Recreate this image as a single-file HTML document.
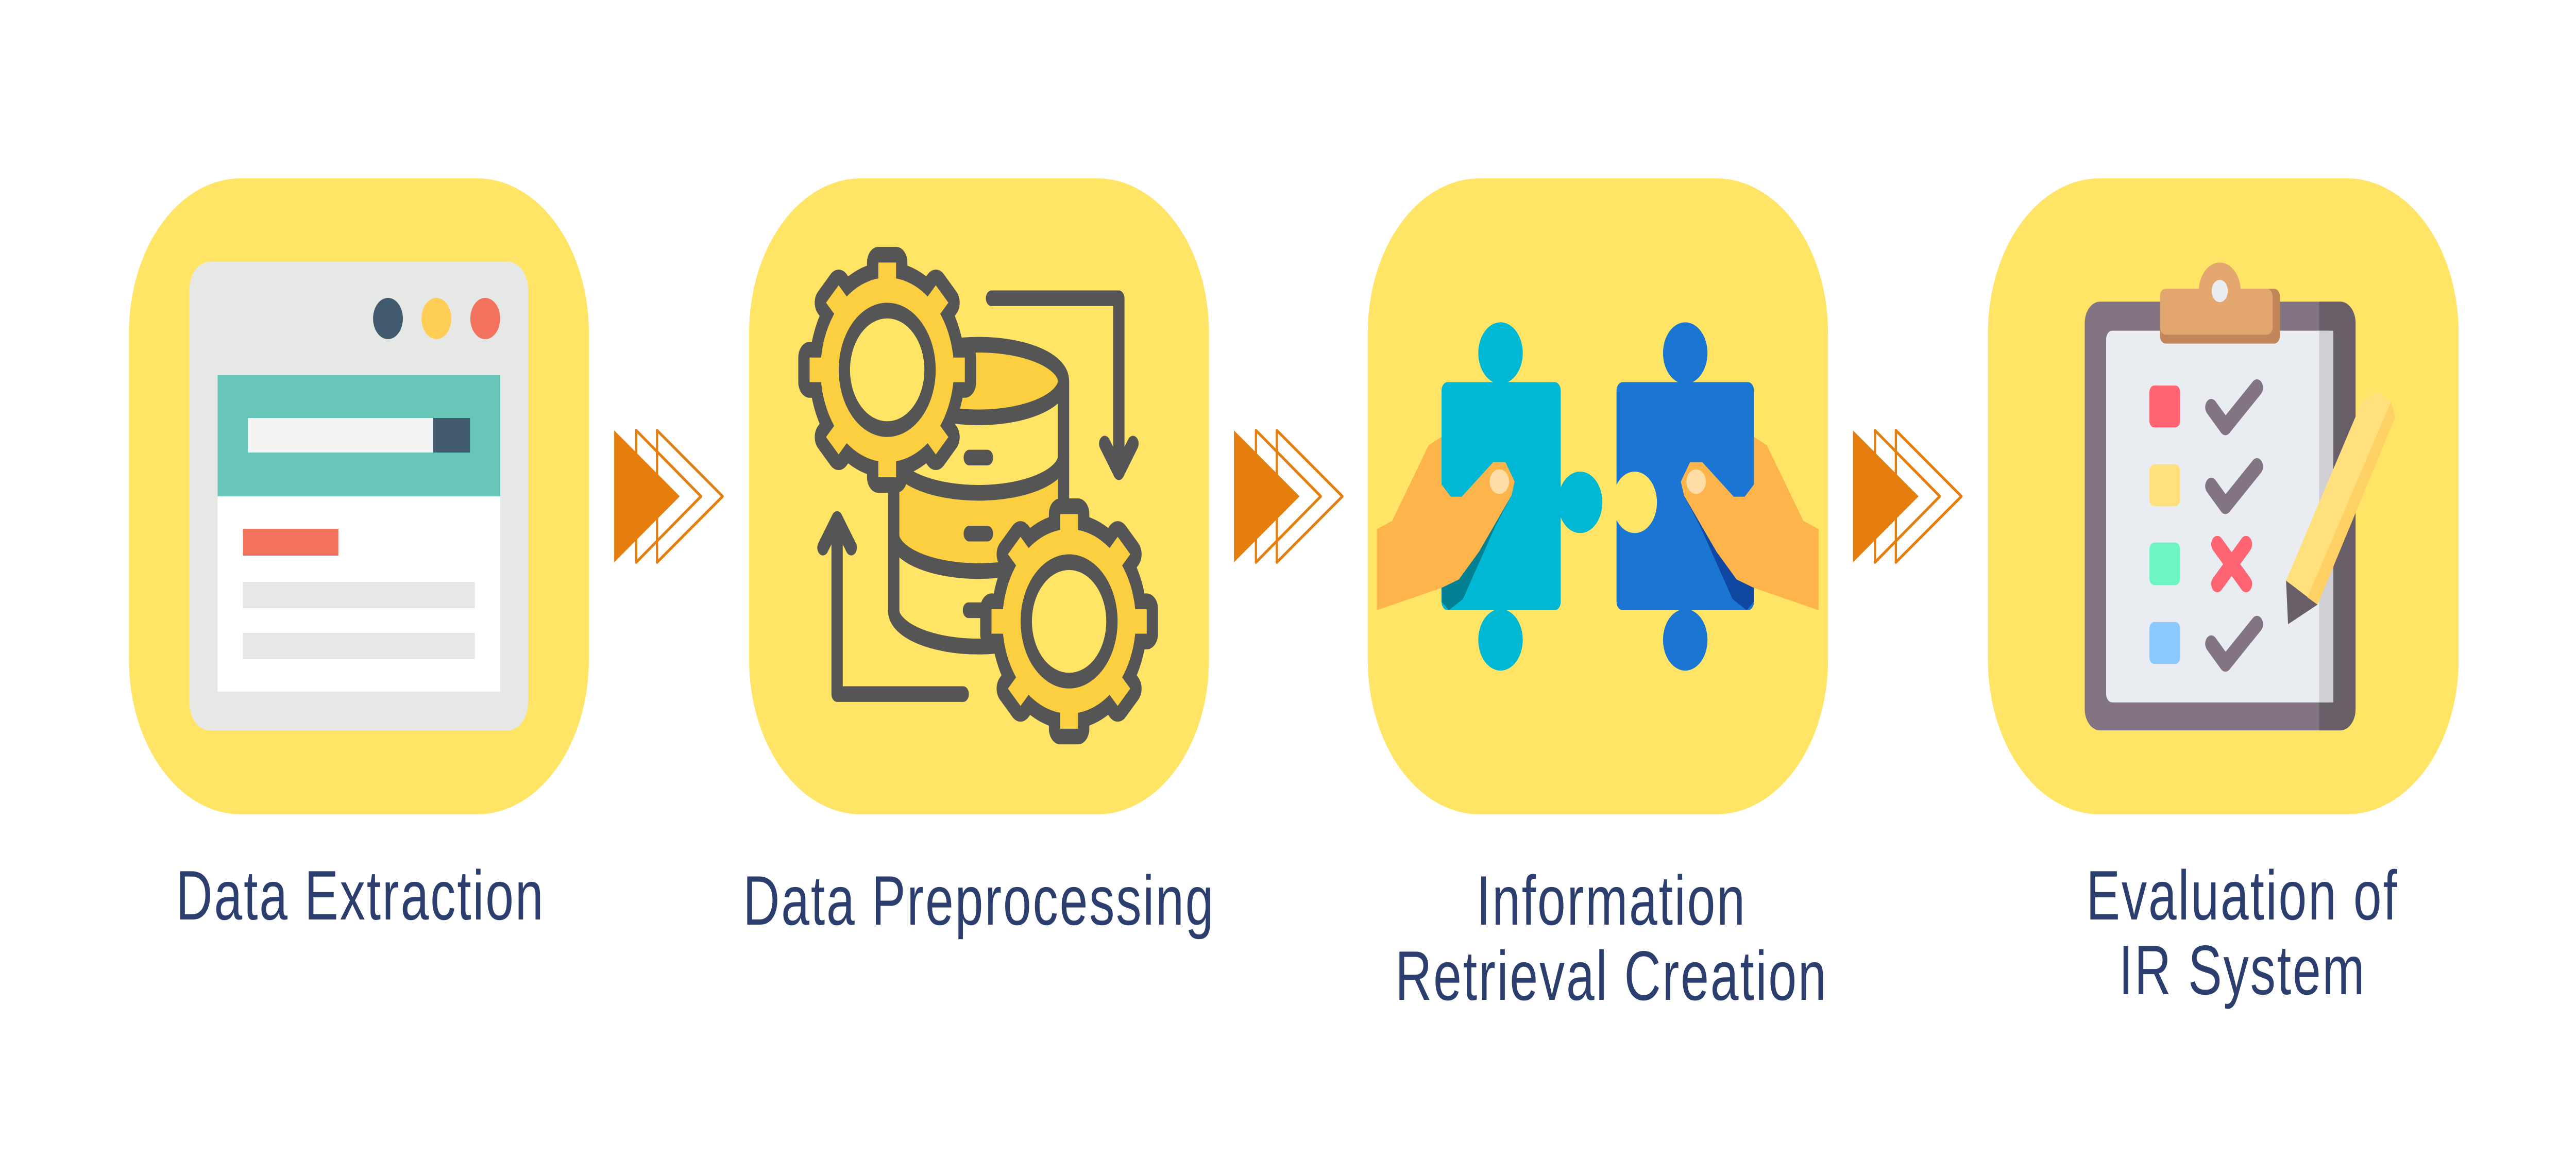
<!DOCTYPE html>
<html><head><meta charset="utf-8"><style>
html,body{margin:0;padding:0;background:#fff;width:100%;height:100%;overflow:hidden;}
svg{display:block;width:100vw;height:100vh;}
text{font-family:"Liberation Sans",sans-serif;fill:#2B3E6E;font-size:136px;letter-spacing:4px;}
</style></head><body>
<svg viewBox="0 0 6912 2239" preserveAspectRatio="none" xmlns="http://www.w3.org/2000/svg">
<rect width="6912" height="2239" fill="#fff"/>
<rect x="346" y="346" width="1234" height="1234" rx="300" fill="#FFE466"/>
<rect x="2010" y="346" width="1234" height="1234" rx="300" fill="#FFE466"/>
<rect x="3670" y="346" width="1235" height="1234" rx="300" fill="#FFE466"/>
<rect x="5334" y="346" width="1263" height="1234" rx="300" fill="#FFE466"/>

<g id="arr1">
<polygon points="1707,835 1881,963 1707,1091" fill="none" stroke="#E67E0E" stroke-width="6" stroke-linejoin="round"/>
<polygon points="1763,835 1939,963 1763,1091" fill="none" stroke="#E67E0E" stroke-width="6" stroke-linejoin="round"/>
<polygon points="1648,835 1824,963 1648,1091" fill="#E67E0E"/>
</g>
<use href="#arr1" transform="translate(1663,0)"/>
<use href="#arr1" transform="translate(3324,0)"/>

<rect x="508" y="508" width="909" height="909" rx="54" fill="#E6E8E6"/>
<circle cx="1041" cy="618" r="40" fill="#425A6D"/>
<circle cx="1171" cy="618" r="40" fill="#FFCE56"/>
<circle cx="1302" cy="618" r="40" fill="#F2725E"/>
<rect x="584" y="728" width="758" height="235" fill="#68C6B9"/>
<rect x="584" y="963" width="758" height="379" fill="#fff"/>
<rect x="665" y="811" width="497" height="67" fill="#F3F3F3"/>
<rect x="1162" y="811" width="99" height="67" fill="#425A6D"/>
<rect x="652" y="1026" width="256" height="52" fill="#F2725E"/>
<rect x="652" y="1129" width="622" height="51" fill="#E6E8E6"/>
<rect x="652" y="1228" width="622" height="51" fill="#E6E8E6"/>

<g transform="translate(1950,300) scale(1.0846)">
<path d="M413,405 L413,815 A210,65 0 0 0 833,815 L833,405" fill="#FFE466" stroke="#555" stroke-width="28"/>
<path d="M413,540 A210,65 0 0 0 833,540 L833,680 A210,65 0 0 1 413,680 Z" fill="#FBCF40"/>
<path d="M413,540 A210,65 0 0 0 833,540 M413,680 A210,65 0 0 0 833,680" fill="none" stroke="#555" stroke-width="28"/>
<path d="M413,405 L413,815 A210,65 0 0 0 833,815 L833,405" fill="none" stroke="#555" stroke-width="28"/>
<ellipse cx="623" cy="405" rx="210" ry="65" fill="#FBCF40" stroke="#555" stroke-width="28"/>
<g stroke="#555" stroke-width="28" stroke-linecap="round">
<line x1="600" y1="542" x2="645" y2="542"/><line x1="600" y1="678" x2="645" y2="678"/><line x1="598" y1="815" x2="630" y2="815"/>
</g>
<g fill="none" stroke="#555" stroke-width="28" stroke-linecap="round" stroke-linejoin="round">
<path d="M655,257 H970 V568"/><path d="M935,517 L970,568 L1005,517"/>
<path d="M585,965 H273 V652"/><path d="M238,703 L273,652 L308,703"/>
</g>
<g id="gear" transform="translate(397,385)">
<g fill="#555" stroke="#555" stroke-width="56" stroke-linejoin="round">
<circle r="165"/>
<rect x="-22" y="-192" width="44" height="100" transform="rotate(0)"/>
<rect x="-22" y="-192" width="44" height="100" transform="rotate(45)"/>
<rect x="-22" y="-192" width="44" height="100" transform="rotate(90)"/>
<rect x="-22" y="-192" width="44" height="100" transform="rotate(135)"/>
<rect x="-22" y="-192" width="44" height="100" transform="rotate(180)"/>
<rect x="-22" y="-192" width="44" height="100" transform="rotate(225)"/>
<rect x="-22" y="-192" width="44" height="100" transform="rotate(270)"/>
<rect x="-22" y="-192" width="44" height="100" transform="rotate(315)"/>
</g>
<g fill="#FBCF40">
<circle r="165"/>
<rect x="-22" y="-192" width="44" height="100" transform="rotate(0)"/>
<rect x="-22" y="-192" width="44" height="100" transform="rotate(45)"/>
<rect x="-22" y="-192" width="44" height="100" transform="rotate(90)"/>
<rect x="-22" y="-192" width="44" height="100" transform="rotate(135)"/>
<rect x="-22" y="-192" width="44" height="100" transform="rotate(180)"/>
<rect x="-22" y="-192" width="44" height="100" transform="rotate(225)"/>
<rect x="-22" y="-192" width="44" height="100" transform="rotate(270)"/>
<rect x="-22" y="-192" width="44" height="100" transform="rotate(315)"/>
</g>
<circle r="106" fill="#FFE466" stroke="#555" stroke-width="28"/>
</g>
<use href="#gear" transform="translate(450,450)"/>
</g>

<g transform="translate(3600,300) scale(1.0846)">
<g fill="#00B7D4">
<rect x="247" y="407" width="295" height="408" rx="15"/>
<circle cx="393" cy="355" r="55"/><circle cx="393" cy="868" r="55"/><circle cx="590" cy="622" r="55"/>
</g>
<g fill="#1A76D2">
<rect x="680" y="407" width="340" height="408" rx="15"/>
<circle cx="850" cy="355" r="55"/><circle cx="850" cy="868" r="55"/>
</g>
<circle cx="725" cy="622" r="55" fill="#FFE466"/>
<g>
<polygon points="420,610 247,775 247,800 265,815 300,795 380,665" fill="#038091"/>
<polygon points="87,670 125,655 215,520 247,505 247,590 270,612 297,612 375,550 405,550 428,585 420,610 340,710 290,760 247,775 87,815" fill="#FDB44B"/>
<ellipse cx="390" cy="585" rx="24" ry="22" fill="#FEDDA6"/>
</g>
<g transform="translate(1267,0) scale(-1,1)">
<polygon points="420,610 247,775 247,800 265,815 300,795 380,665" fill="#0F47A1"/>
<polygon points="87,670 125,655 215,520 247,505 247,590 270,612 297,612 375,550 405,550 428,585 420,610 340,710 290,760 247,775 87,815" fill="#FDB44B"/>
<ellipse cx="390" cy="585" rx="24" ry="22" fill="#FEDDA6"/>
</g>
</g>

<g transform="translate(5250,300) scale(1.0846)">
<rect x="317" y="263" width="670" height="767" rx="38" fill="#827482"/>
<path d="M897,263 H949 A38,38 0 0 1 987,301 V992 A38,38 0 0 1 949,1030 H897 Z" fill="#685E68"/>
<rect x="370" y="315" width="562" height="665" rx="15" fill="#E9EDF1"/>
<rect x="897" y="315" width="35" height="665" fill="#D0CFD4"/>
<rect x="503" y="240" width="297" height="98" rx="14" fill="#C1875A"/>
<rect x="503" y="240" width="279" height="82" rx="14" fill="#E2A66E"/>
<circle cx="651" cy="245" r="52" fill="#E2A66E"/>
<circle cx="651" cy="244" r="20" fill="#E9EDF1"/>
<rect x="477" y="413" width="76" height="75" rx="12" fill="#FF6473"/>
<rect x="477" y="554" width="76" height="75" rx="12" fill="#FFE07D"/>
<rect x="477" y="694" width="76" height="76" rx="12" fill="#6DF5C3"/>
<rect x="477" y="836" width="76" height="75" rx="12" fill="#8BC8FD"/>
<g fill="none" stroke="#827482" stroke-width="30" stroke-linecap="round" stroke-linejoin="round">
<polyline points="630,452 665,487 743,417"/>
<polyline points="630,593 665,628 743,558"/>
<polyline points="630,875 665,910 743,840"/>
</g>
<g stroke="#FF6473" stroke-width="30" stroke-linecap="round">
<line x1="645" y1="697" x2="716" y2="768"/><line x1="716" y1="697" x2="645" y2="768"/>
</g>
<polygon points="815,762 893,805 820,840" fill="#685E68"/>
<polygon points="815,762 1005,438 1040,425 1075,442 893,805" fill="#FFE07D"/>
<polygon points="868,792 1075,442 1085,470 893,805" fill="#FFD064"/>
</g>

<text x="967" y="1784" text-anchor="middle">Data Extraction</text>
<text x="2627" y="1794" text-anchor="middle">Data Preprocessing</text>
<text x="4324" y="1794" text-anchor="middle">Information</text>
<text x="4324" y="1940" text-anchor="middle">Retrieval Creation</text>
<text x="6017" y="1784" text-anchor="middle">Evaluation of</text>
<text x="6017" y="1929" text-anchor="middle">IR System</text>
</svg>
</body></html>
